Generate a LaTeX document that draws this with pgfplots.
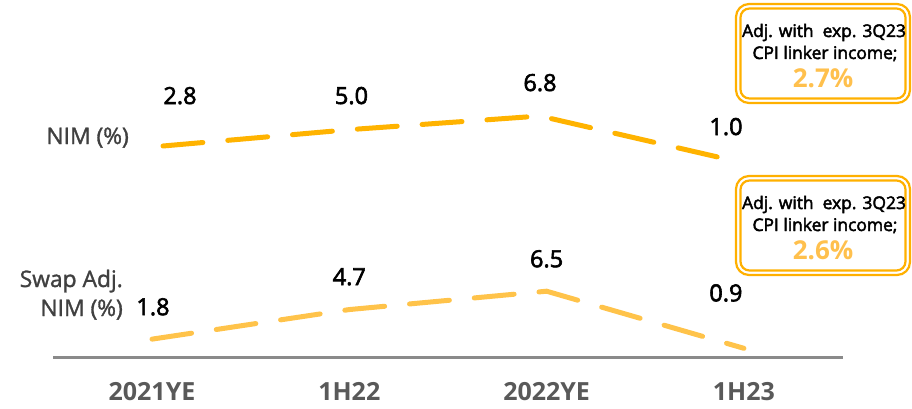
\documentclass[border=0pt]{standalone}
\usepackage{pgfplots}
\usepackage{pgfplotstable}
\pgfplotsset{compat=1.18}
\usepackage{fontspec}
\setmainfont{Open Sans}
\newfontfamily\medfont[FakeBold=2.6]{Open Sans}
\newfontfamily\semifont[FakeBold=1.4]{Open Sans}

\definecolor{nimline}{HTML}{FFB300}
\definecolor{swapline}{HTML}{FFC34A}
\definecolor{boxedge}{HTML}{FFB000}
\definecolor{pcttext}{HTML}{FFC04D}
\definecolor{axisgray}{HTML}{8A8A8A}
\definecolor{catgray}{HTML}{595959}
\definecolor{sergray}{HTML}{404040}

% Net interest margin, reported
\pgfplotstableread{
x nim
0 2.8
1 5.0
2 6.8
3 1.0
}\nimdata
% Net interest margin, swap adjusted
\pgfplotstableread{
x swap
0 1.8
1 4.7
2 6.5
3 0.9
}\swapdata

\newcommand{\valfont}{\medfont\fontsize{23.5}{26}\selectfont}
\newcommand{\serfont}{\semifont\fontsize{22.8}{26}\selectfont}
\newcommand{\boxfont}{\medfont\fontsize{17.4}{20}\selectfont}
\newcommand{\pctfont}{\fontsize{26}{28}\selectfont\bfseries}

\tikzset{
  vallabel/.style={anchor=base, inner sep=0pt, font=\valfont, text=black},
  trend/.style={line width=5pt, line cap=round, dash pattern=on 40pt off 25pt},
}

\begin{document}
\begin{tikzpicture}
\useasboundingbox (0,0) rectangle (912pt,408pt);

% reported NIM
\begin{axis}[
  at={(68.75pt,241pt)}, anchor=south west,
  x=188.5pt, y=7.5pt,
  xmin=-0.5, xmax=3.3, ymin=0, ymax=8,
  hide axis, clip=false,
]
\addplot[trend, draw=nimline] table[x=x, y=nim] {\nimdata};
\node[vallabel, xshift=17pt, yshift=42pt] at (axis cs:0,2.8) {2.8};
\node[vallabel, yshift=25.5pt] at (axis cs:1,5.0) {5.0};
\node[vallabel, yshift=25pt] at (axis cs:2,6.8) {6.8};
\node[vallabel, xshift=-2.5pt, yshift=24.5pt] at (axis cs:3,1.0) {1.0};
\end{axis}

% swap adjusted NIM with category axis
\begin{axis}[
  at={(53.35pt,50.5pt)}, anchor=south west,
  x=197.3pt, y=10.2pt,
  xmin=-0.5, xmax=3.5, ymin=0, ymax=7,
  clip=false,
  axis x line=bottom, axis y line=none,
  x axis line style={-, draw=axisgray, line width=2.6pt},
  xtick={0,1,2,3},
  xticklabels={2021YE,1H22,2022YE,1H23},
  major tick length=0pt,
  xticklabel style={anchor=base, yshift=-42.5pt, inner sep=0pt,
    font=\fontsize{25}{28}\selectfont\bfseries, text=catgray},
  ytick=\empty,
]
\addplot[trend, draw=swapline] table[x=x, y=swap] {\swapdata};
\node[vallabel, xshift=1pt, yshift=24pt] at (axis cs:0,1.8) {1.8};
\node[vallabel, yshift=24.5pt] at (axis cs:1,4.7) {4.7};
\node[vallabel, yshift=24pt] at (axis cs:2,6.5) {6.5};
\node[vallabel, xshift=-18pt, yshift=47pt] at (axis cs:3,0.9) {0.9};
\end{axis}

% series names
\node[anchor=base east, inner sep=0pt, font=\serfont, text=sergray] at (129pt,264pt) {NIM (\%)};
\node[anchor=base east, inner sep=0pt, font=\serfont, text=sergray] at (123pt,121pt) {Swap Adj.};
\node[anchor=base east, inner sep=0pt, font=\serfont, text=sergray] at (123pt,92pt) {NIM (\%)};

% callouts
\foreach \dy/\pct in {0/2.7, 172/2.6} {
  \begin{scope}[yshift=-\dy pt]
    \draw[boxedge, line width=2.2pt, rounded corners=13pt] (736pt,404pt) rectangle (910pt,305pt);
    \draw[boxedge, line width=2.2pt, rounded corners=9pt] (740.5pt,399.5pt) rectangle (905.5pt,309.5pt);
    \node[anchor=base, inner sep=0pt, font=\boxfont] at (824pt,371pt) {Adj. with~ exp. 3Q23};
    \node[anchor=base, inner sep=0pt, font=\boxfont] at (825pt,349pt) {CPI linker income;};
    \node[anchor=base, inner sep=0pt, font=\pctfont, text=pcttext] at (823pt,321pt) {\pct\%};
  \end{scope}
}
\end{tikzpicture}
\end{document}
